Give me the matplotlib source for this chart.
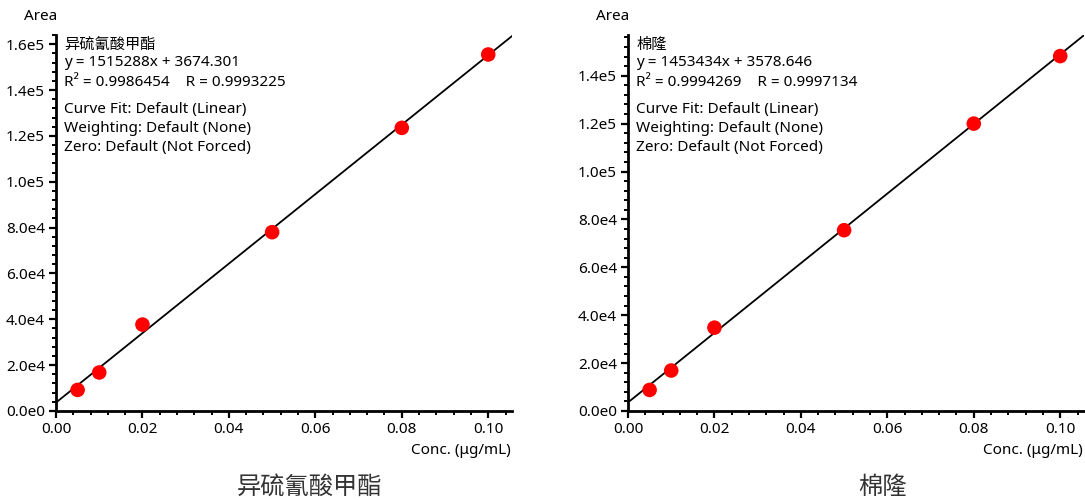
import matplotlib
matplotlib.use("Agg")
import matplotlib.pyplot as plt
from matplotlib.ticker import MultipleLocator, FuncFormatter
import numpy as np

plt.rcParams['font.family'] = ['Noto Sans', 'Noto Sans CJK SC', 'DejaVu Sans']

# ---- data ----
conc = [0.005, 0.01, 0.02, 0.05, 0.08, 0.10]
area_a = [9200, 16800, 37700, 78000, 123500, 155500]
area_b = [8800, 16900, 34800, 75500, 120000, 148200]
names = ["异硫氰酸甲酯", "棉隆"]
slopes = [1515288, 1453434]
intercepts = [3674.301, 3578.646]
r2_vals = ["0.9986454", "0.9994269"]
r_vals = ["0.9993225", "0.9997134"]
ymax_vals = [1.64e5, 1.57e5]
xmax = 0.1055

W, H = 1085, 500
fig = plt.figure(figsize=(W / 100, H / 100), dpi=100)


def sci_fmt(v, pos):
    if v == 0:
        return "0.0e0"
    e = int(np.floor(np.log10(abs(v)) + 1e-9))
    m = v / 10 ** e
    return f"{m:.1f}e{e}"


def px(x, y):
    return x / W, 1 - y / H


series = [area_a, area_b]
ax_left_px = [56, 628]
for i in range(2):
    l = ax_left_px[i]
    ax = fig.add_axes([l / W, (H - 411) / H, 456 / W, 376 / H])
    ax.set_xlim(0, xmax)
    ax.set_ylim(0, ymax_vals[i])
    xs = np.array([0, xmax])
    ax.plot(xs, slopes[i] * xs + intercepts[i], color='black', lw=1.3, zorder=2,
            clip_on=True)
    ax.scatter(conc, series[i], s=110, color='#ff0000', zorder=3, clip_on=False,
               edgecolors='none')
    for s in ['top', 'right']:
        ax.spines[s].set_visible(False)
    for s in ['left', 'bottom']:
        ax.spines[s].set_linewidth(2.0)
    ax.xaxis.set_major_locator(MultipleLocator(0.02))
    ax.xaxis.set_minor_locator(MultipleLocator(0.004))
    ax.yaxis.set_major_locator(MultipleLocator(20000))
    ax.yaxis.set_minor_locator(MultipleLocator(4000))
    ax.xaxis.set_major_formatter(FuncFormatter(lambda v, p: f"{v:.2f}"))
    ax.yaxis.set_major_formatter(FuncFormatter(sci_fmt))
    ax.tick_params(which='major', direction='out', length=5, width=1.6,
                   labelsize=11, pad=3)
    ax.tick_params(which='minor', direction='out', length=3, width=1.4)
    # labels
    fig.text(*px(l - 32, 16), "Area", fontsize=11, ha='left', va='center')
    fig.text(*px(l + 455, 451), "Conc. (μg/mL)", fontsize=11, ha='right', va='center')
    fig.text(*px(l + 254, 487), names[i], fontsize=17.5, ha='center', va='center',
             color='#333333', family=['Noto Sans CJK SC', 'DejaVu Sans'])
    lines = [
        (44, names[i]),
        (63, f"y = {slopes[i]}x + {intercepts[i]:.3f}"),
        (82, f"R² = {r2_vals[i]}    R = {r_vals[i]}"),
        (110, "Curve Fit: Default (Linear)"),
        (129, "Weighting: Default (None)"),
        (148, "Zero: Default (Not Forced)"),
    ]
    for yy, t in lines:
        fam = ['Noto Sans CJK SC', 'DejaVu Sans'] if yy == 44 else ['Noto Sans', 'DejaVu Sans']
        fig.text(*px(l + 8, yy), t, fontsize=11, ha='left', va='center', family=fam)

fig.savefig("out.png", dpi=100, facecolor='white')
